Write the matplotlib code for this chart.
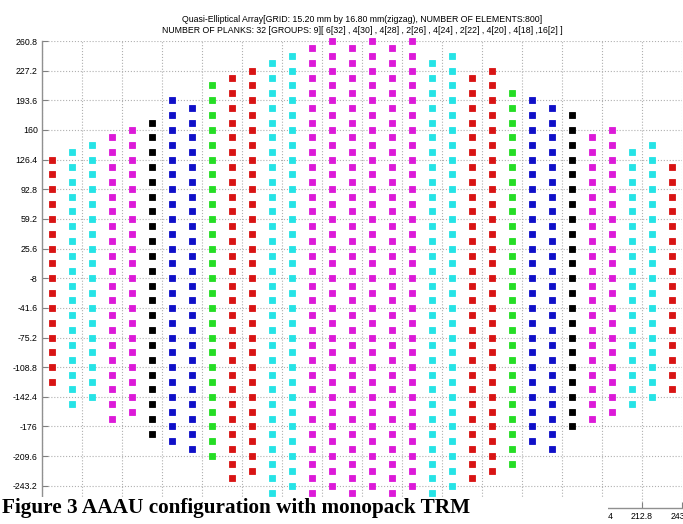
import numpy as np
import matplotlib
matplotlib.use("Agg")
import matplotlib.pyplot as plt
from matplotlib.patches import Rectangle

# elements per plank (column), left to right
plank_counts = [16, 18, 18, 20, 20, 22, 24, 24, 26, 28, 28, 30, 30, 32, 32, 32,
                32, 32, 32, 30, 30, 28, 28, 26, 24, 24, 22, 20, 20, 18, 18, 16]
# group colour by plank length
group_sizes = [32, 30, 28, 26, 24, 22, 20, 18, 16]
group_colors = ['#dc1ad8', '#26e3e6', '#d81414', '#25dd25', '#1010c8', '#000000',
                '#dc1ad8', '#26e3e6', '#d81414']
# grid pitch (mm) and zigzag centres
dx = 15.2
dy = 16.8
col_centres = [0.4, -8.0]

xticks = np.round(-243.2 + 30.4 * np.arange(17), 1)
yticks = np.round(-243.2 + 33.6 * np.arange(16), 1)

color_of = dict(zip(group_sizes, group_colors))

fig = plt.figure(figsize=(6.83, 5.24), dpi=100)
ax = fig.add_axes([42 / 683, 16 / 524, 640 / 683, 467 / 524])

n_planks = len(plank_counts)
for k, n in enumerate(plank_counts):
    x = (k - (n_planks - 1) / 2) * dx
    yc = col_centres[k % 2]
    ys = yc + (np.arange(n) - (n - 1) / 2) * dy
    ax.plot(np.full(n, x), ys, 's', color=color_of[n], ms=4.3, mew=0.6,
            clip_on=False, zorder=3)

ax.set_xlim(-243.2, 243.2)
ax.set_ylim(-268.4, 260.8)
ax.set_xticks(xticks)
ax.set_yticks(yticks)
ax.set_xticklabels(['%g' % v for v in xticks])
ax.set_yticklabels(['%g' % v for v in yticks])
ax.grid(True, linestyle=':', color='#b0b0b0', linewidth=0.8)
ax.tick_params(direction='in', length=4, width=0.8, color='#808080',
               labelsize=6.3, pad=3)
for lab in ax.get_xticklabels() + ax.get_yticklabels():
    lab.set_family('Liberation Sans')
for s in ['top', 'right']:
    ax.spines[s].set_visible(False)
for s in ['left', 'bottom']:
    ax.spines[s].set_color('#909090')
    ax.spines[s].set_linewidth(1.0)

ax.set_title('Quasi-Elliptical Array[GRID: 15.20 mm by 16.80 mm(zigzag), NUMBER OF ELEMENTS:800]\n'
             'NUMBER OF PLANKS: 32 [GROUPS: 9][ 6[32] , 4[30] , 4[28] , 2[26] , 4[24] , 2[22] , 4[20] , 4[18] ,16[2] ]',
             fontsize=6.3, family='Liberation Sans', pad=6, linespacing=1.3)

# caption pasted over the lower part of the plot
fig.add_artist(Rectangle((0, 0), 608 / 683, 27 / 524, transform=fig.transFigure,
                         facecolor='white', edgecolor='none', zorder=5))
fig.text(0.003, 11 / 524, 'Figure 3 AAAU configuration with monopack TRM',
         family='Liberation Serif', weight='bold', fontsize=15.3,
         va='baseline', ha='left', zorder=6)

fig.savefig('out.png', dpi=100)
